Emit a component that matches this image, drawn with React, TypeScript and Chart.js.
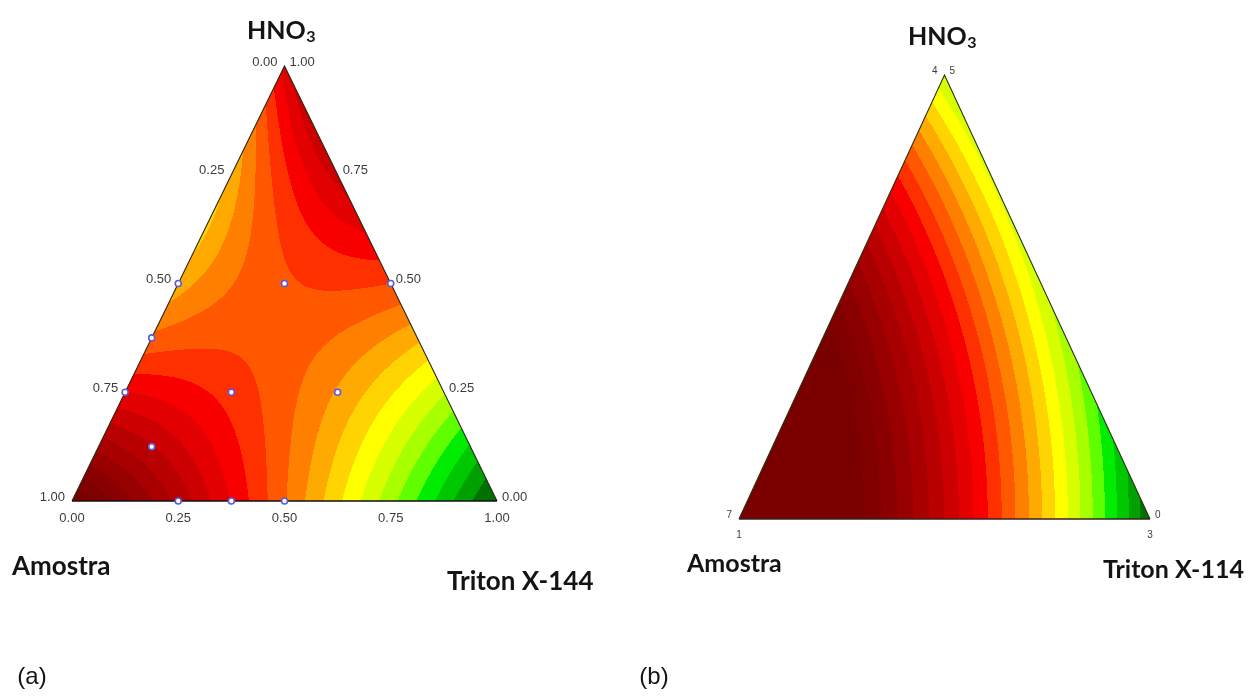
import React, { useEffect, useRef } from "react";
import { Chart, registerables } from "chart.js";

Chart.register(...registerables);

// Mixture design points of panel (a): fractions of Amostra, HNO3 and Triton
const designAmostra = [0.5, 0.25, 0.0, 0.625, 0.75, 0.5, 0.25, 0.75, 0.75, 0.625, 0.5];
const designHNO3 = [0.5, 0.5, 0.5, 0.375, 0.25, 0.25, 0.25, 0.125, 0.0, 0.0, 0.0];
const designTriton = [0.0, 0.25, 0.5, 0.0, 0.0, 0.25, 0.5, 0.125, 0.25, 0.375, 0.5];

// Panel (a) fitted Scheffé cubic model (components: Amostra, HNO3, Triton)
const linearA = [22.0, 14.5, -0.3];
const binaryA = [-35.0, 1.0, 19.6]; // A·H, A·T, H·T
const asymmetricA = [5.0, 1.0, 10.0]; // A·H·(A−H), A·T·(A−T), H·T·(H−T)
const ternaryA = 27.8; // A·H·T

// Panel (b) fitted Scheffé quadratic model
const linearB = [27.48, 6.01, 0.17];
const binaryB = [12.1, 8.58, 12.08]; // A·H, A·T, H·T

// Contour levels and the fill colour of each band (lowest band first)
const contourLevels = [1, 2, 3, 4, 5, 6, 7, 8, 9, 10, 11, 12, 13, 14, 15, 16, 17, 18, 19, 20, 21];
const bandColors = [
  "#007000", "#00a000", "#00c800", "#00ec00", "#60ff00", "#a8ff00", "#d8ff00",
  "#ffff00", "#ffd400", "#ffaa00", "#ff8000", "#ff5800", "#ff3000", "#f80000",
  "#e20000", "#cc0000", "#b80000", "#a80000", "#980000", "#8a0000", "#800000", "#7a0000",
];

// Axis tick values and labels
const fractionValues = [0, 0.25, 0.5, 0.75, 1];
const fractionLabels = ["0.00", "0.25", "0.50", "0.75", "1.00"];
const cornerValues = [0, 1];
const amostraLabelsB = ["4", "7"];
const hno3LabelsB = ["0", "5"];
const tritonLabelsB = ["1", "3"];

type Model = (a: number, h: number, t: number) => number;

const cubicResponse: Model = (a, h, t) =>
  linearA[0] * a + linearA[1] * h + linearA[2] * t +
  binaryA[0] * a * h + binaryA[1] * a * t + binaryA[2] * h * t +
  asymmetricA[0] * a * h * (a - h) + asymmetricA[1] * a * t * (a - t) + asymmetricA[2] * h * t * (h - t) +
  ternaryA * a * h * t;

const quadraticResponse: Model = (a, h, t) =>
  linearB[0] * a + linearB[1] * h + linearB[2] * t +
  binaryB[0] * a * h + binaryB[1] * a * t + binaryB[2] * h * t;

const bandRgb = bandColors.map((c) => [
  parseInt(c.slice(1, 3), 16),
  parseInt(c.slice(3, 5), 16),
  parseInt(c.slice(5, 7), 16),
]);

function bandIndex(v: number) {
  let k = 0;
  while (k < contourLevels.length && v >= contourLevels[k]) k++;
  return k;
}

// Ternary (Amostra, HNO3, Triton) -> cartesian data coordinates
const toX = (h: number, t: number) => t + h / 2;

interface TextItem {
  text: string;
  sub?: string;
  x: number;
  y: number;
  font: string;
  subFont?: string;
  align?: CanvasTextAlign;
}

interface AxisLabels {
  values: number[];
  labels: string[];
}

interface PanelSetup {
  model: Model;
  outline: string;
  baseLine: string;
  tickFont: string;
  tickColor: string;
  tickDrop: number;
  amostra: AxisLabels;
  hno3: AxisLabels;
  triton: AxisLabels;
  texts: TextItem[];
}

function makeTernaryPlugin(setup: PanelSetup) {
  return {
    id: "ternaryContour",
    beforeDatasetsDraw(chart: any) {
      const { ctx, chartArea } = chart;
      const xs = chart.scales.x;
      const ys = chart.scales.y;
      const left = Math.floor(chartArea.left) - 1;
      const top = Math.floor(chartArea.top) - 1;
      const w = Math.ceil(chartArea.right) - left + 2;
      const h = Math.ceil(chartArea.bottom) - top + 2;

      const off = document.createElement("canvas");
      off.width = w;
      off.height = h;
      const octx = off.getContext("2d")!;
      const img = octx.createImageData(w, h);
      for (let j = 0; j < h; j++) {
        const hv = Math.min(1, Math.max(0, ys.getValueForPixel(top + j + 0.5)));
        for (let i = 0; i < w; i++) {
          const xv = xs.getValueForPixel(left + i + 0.5);
          let tv = xv - hv / 2;
          tv = Math.min(1 - hv, Math.max(0, tv));
          const av = 1 - hv - tv;
          const rgb = bandRgb[bandIndex(setup.model(av, hv, tv))];
          const p = (j * w + i) * 4;
          img.data[p] = rgb[0];
          img.data[p + 1] = rgb[1];
          img.data[p + 2] = rgb[2];
          img.data[p + 3] = 255;
        }
      }
      octx.putImageData(img, 0, 0);

      const px = (hv: number, tv: number) => xs.getPixelForValue(toX(hv, tv));
      const py = (hv: number) => ys.getPixelForValue(hv);

      ctx.save();
      ctx.beginPath();
      ctx.moveTo(px(0, 0), py(0));
      ctx.lineTo(px(0, 1), py(0));
      ctx.lineTo(px(1, 0), py(1));
      ctx.closePath();
      ctx.clip();
      ctx.drawImage(off, left, top);
      ctx.restore();

      ctx.save();
      ctx.lineWidth = 1.1;
      ctx.strokeStyle = setup.outline;
      ctx.beginPath();
      ctx.moveTo(px(0, 1), py(0));
      ctx.lineTo(px(1, 0), py(1));
      ctx.lineTo(px(0, 0), py(0));
      ctx.stroke();
      ctx.lineWidth = 1.6;
      ctx.strokeStyle = setup.baseLine;
      ctx.beginPath();
      ctx.moveTo(px(0, 0), py(0));
      ctx.lineTo(px(0, 1), py(0));
      ctx.stroke();
      ctx.restore();
    },
    afterDraw(chart: any) {
      const { ctx } = chart;
      const xs = chart.scales.x;
      const ys = chart.scales.y;
      const px = (hv: number, tv: number) => xs.getPixelForValue(toX(hv, tv));
      const py = (hv: number) => ys.getPixelForValue(hv);

      ctx.save();
      ctx.font = setup.tickFont;
      ctx.fillStyle = setup.tickColor;
      ctx.textBaseline = "middle";

      // Amostra scale on the left edge (Triton = 0)
      ctx.textAlign = "right";
      setup.amostra.values.forEach((a, i) => {
        const hv = 1 - a;
        ctx.fillText(setup.amostra.labels[i], px(hv, 0) - 7, py(hv) - 4);
      });
      // HNO3 scale on the right edge (Amostra = 0)
      ctx.textAlign = "left";
      setup.hno3.values.forEach((hv, i) => {
        ctx.fillText(setup.hno3.labels[i], px(hv, 1 - hv) + 5, py(hv) - 4);
      });
      // Triton scale on the base (HNO3 = 0)
      ctx.textAlign = "center";
      setup.triton.values.forEach((tv, i) => {
        ctx.fillText(setup.triton.labels[i], px(0, tv), py(0) + setup.tickDrop);
      });

      // Component names and panel tag
      ctx.fillStyle = "#141414";
      ctx.textBaseline = "alphabetic";
      setup.texts.forEach((item) => {
        ctx.font = item.font;
        ctx.textAlign = item.align || "left";
        ctx.fillText(item.text, item.x, item.y);
        if (item.sub) {
          const wMain = ctx.measureText(item.text).width;
          ctx.font = item.subFont || item.font;
          ctx.textAlign = "left";
          ctx.fillText(item.sub, item.x + wMain + 0.5, item.y + 3);
        }
      });
      ctx.restore();
    },
  };
}

interface PanelProps {
  setup: PanelSetup;
  padding: { left: number; right: number; top: number; bottom: number };
  points?: { x: number; y: number }[];
}

function TernaryPanel({ setup, padding, points }: PanelProps) {
  const ref = useRef<HTMLCanvasElement>(null);
  useEffect(() => {
    const datasets: any[] = points
      ? [
          {
            label: "Design",
            data: points,
            pointRadius: 3,
            pointBackgroundColor: "#ffffff",
            pointBorderColor: "#5a5ad8",
            pointBorderWidth: 1.6,
            clip: false,
          },
        ]
      : [];
    const chart = new Chart(ref.current as HTMLCanvasElement, {
      type: "scatter",
      data: { datasets },
      options: {
        responsive: false,
        animation: false,
        events: [],
        layout: { padding },
        scales: {
          x: { type: "linear", min: 0, max: 1, display: false },
          y: { type: "linear", min: 0, max: 1, display: false },
        },
        plugins: { legend: { display: false }, tooltip: { enabled: false } },
      },
      plugins: [makeTernaryPlugin(setup)],
    });
    return () => chart.destroy();
  }, []);
  return <canvas ref={ref} width={625} height={698} style={{ display: "block" }} />;
}

const designPoints = designAmostra.map((_, i) => ({
  x: toX(designHNO3[i], designTriton[i]),
  y: designHNO3[i],
}));

const setupA: PanelSetup = {
  model: cubicResponse,
  outline: "#262618",
  baseLine: "#111111",
  tickFont: '13px "Liberation Sans"',
  tickColor: "#3c3c3c",
  tickDrop: 17,
  amostra: { values: fractionValues, labels: fractionLabels },
  hno3: { values: fractionValues, labels: fractionLabels },
  triton: { values: fractionValues, labels: fractionLabels },
  texts: [
    { text: "HNO", sub: "3", x: 247, y: 39, font: 'bold 25px "Lato"', subFont: 'bold 16px "Lato"' },
    { text: "Amostra", x: 12, y: 575, font: 'bold 26px "Lato"' },
    { text: "Triton X-144", x: 447, y: 590, font: 'bold 26px "Lato"' },
    { text: "(a)", x: 32, y: 684, font: '24px "Liberation Sans"', align: "center" },
  ],
};

const setupB: PanelSetup = {
  model: quadraticResponse,
  outline: "#26300f",
  baseLine: "#3a2020",
  tickFont: '10px "Liberation Sans"',
  tickColor: "#3c3c3c",
  tickDrop: 16,
  amostra: { values: cornerValues, labels: amostraLabelsB },
  hno3: { values: cornerValues, labels: hno3LabelsB },
  triton: { values: cornerValues, labels: tritonLabelsB },
  texts: [
    { text: "HNO", sub: "3", x: 283, y: 45, font: 'bold 25px "Lato"', subFont: 'bold 16px "Lato"' },
    { text: "Amostra", x: 62, y: 572, font: 'bold 25px "Lato"' },
    { text: "Triton X-114", x: 478, y: 578, font: 'bold 25px "Lato"' },
    { text: "(b)", x: 29, y: 684, font: '24px "Liberation Sans"', align: "center" },
  ],
};

export default function App() {
  return (
    <div
      style={{
        position: "fixed",
        left: 0,
        top: 0,
        width: 1250,
        height: 698,
        background: "#ffffff",
        display: "flex",
      }}
    >
      <TernaryPanel
        setup={setupA}
        padding={{ left: 72, right: 128, top: 66, bottom: 197 }}
        points={designPoints}
      />
      <TernaryPanel setup={setupB} padding={{ left: 114, right: 100, top: 75, bottom: 179 }} />
    </div>
  );
}
